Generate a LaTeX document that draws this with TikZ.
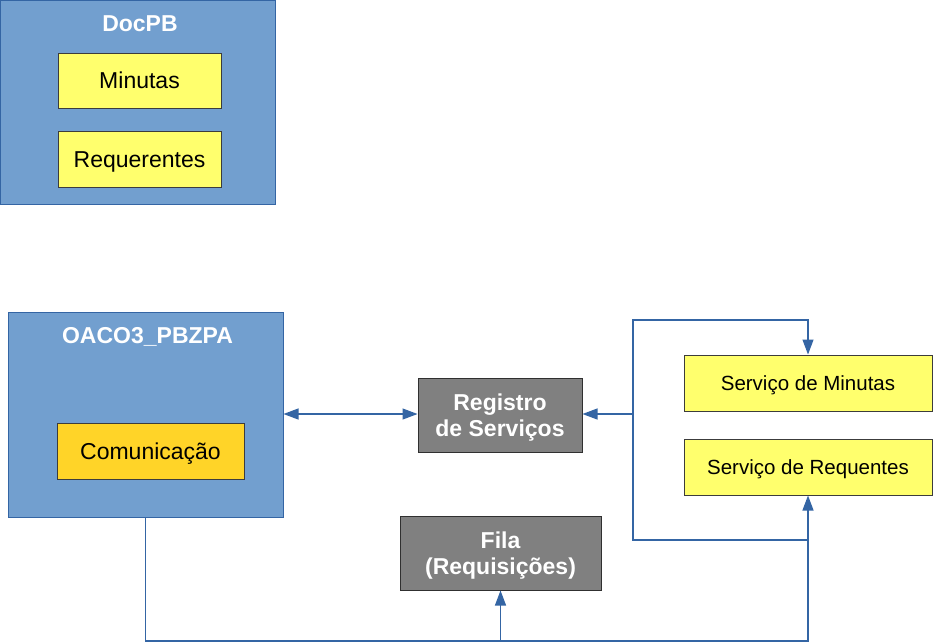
\documentclass[tikz,border=0pt]{standalone}
\usepackage{fontspec}
\setmainfont{Liberation Sans}
\usetikzlibrary{arrows.meta}
\definecolor{boxblue}{HTML}{729FCF}
\definecolor{lineblue}{HTML}{3465A4}
\definecolor{yel}{HTML}{FFFF6D}
\definecolor{gold}{HTML}{FFD428}
\definecolor{grayfill}{HTML}{808080}
\definecolor{darkb}{HTML}{3C3C3C}
\tikzset{
  bigbox/.style={draw=lineblue, fill=boxblue, line width=1pt, inner sep=0pt},
  title/.style={text=white, font=\fontsize{23}{26}\selectfont\bfseries, inner sep=0pt},
  ybox/.style={draw=darkb, fill=yel, line width=1pt, inner sep=0pt, font=\fontsize{23}{26}\selectfont, text height=16.5pt, text depth=0pt},
  sbox/.style={draw=darkb, fill=yel, line width=1pt, inner sep=0pt, font=\fontsize{20.5}{24}\selectfont, text height=14.7pt, text depth=0pt},
  gbox/.style={draw=darkb!80!black, fill=grayfill, line width=1pt, inner sep=0pt, text=white, align=center, font=\fontsize{23}{26.5}\selectfont\bfseries, text height=43pt, text depth=0pt},
  conn/.style={draw=lineblue, line width=1.2pt},
  tip/.style={-{Triangle[length=15pt,width=11pt]}},
  tips/.style={{Triangle[length=15pt,width=11pt]}-{Triangle[length=15pt,width=11pt]}}
}
\begin{document}
\begin{tikzpicture}[x=1pt,y=-1pt]
\useasboundingbox[fill=white] (0,0) rectangle (933,643);
% DocPB
\node[bigbox, minimum width=275pt, minimum height=204pt] (docpb) at (138,102.5) {};
\node[title] (docpbt) at (140,24) {DocPB};
\node[ybox, minimum width=163pt, minimum height=55pt] (min) at (139.5,80.5) {Minutas};
\node[ybox, minimum width=163pt, minimum height=56pt] (req) at (139.5,159) {Requerentes};
% OACO3
\node[bigbox, minimum width=275pt, minimum height=205pt] (oaco) at (145.5,414.5) {};
\node[title] (oacot) at (147.5,337) {OACO3\_PBZPA};
\node[ybox, fill=gold, minimum width=187pt, minimum height=56pt] (com) at (150.5,451) {Comunicação};
% gray boxes
\node[gbox, minimum width=164pt, minimum height=74pt] (reg) at (500,415) {Registro\\de Serviços};
\node[gbox, minimum width=201pt, minimum height=74pt] (fila) at (500.5,553) {Fila\\(Requisições)};
% services
\node[sbox, minimum width=248pt, minimum height=56pt] (sm) at (808,383) {Serviço de Minutas};
\node[sbox, minimum width=248pt, minimum height=56pt] (sr) at (808,467) {Serviço de Requentes};
% junction coordinates
\coordinate (j1) at (633,414);
\coordinate (t1) at (808,320);
\coordinate (b1) at (808,540);
\coordinate (bb) at (808,641);
\coordinate (bf) at (500.5,641);
% connectors
\draw[conn, tips] (oaco.east |- 0,414) -- (reg.west |- 0,414);
\draw[conn, tip] (j1) -- (reg.east |- j1);
\draw[conn, tip] (j1) |- (t1) -- (sm.north);
\draw[conn] (j1) |- (b1);
\draw[conn, tip] (oaco.south) |- (bb) -- (sr.south);
\draw[conn, tip] (bf) -- (fila.south);
\end{tikzpicture}
\end{document}
